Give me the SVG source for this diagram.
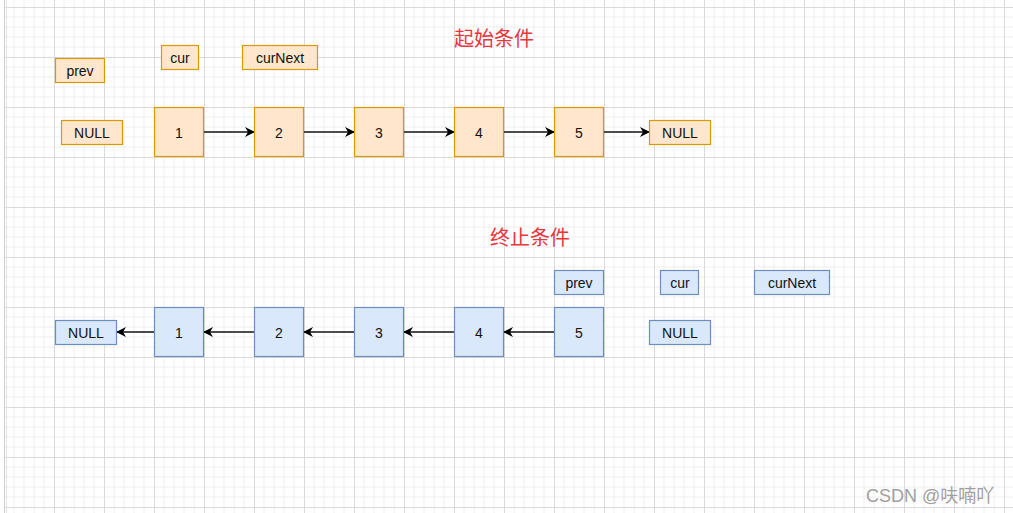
<svg xmlns="http://www.w3.org/2000/svg" width="1013" height="513" viewBox="0 0 1013 513">
<defs>
<pattern id="grid" x="4" y="7" width="50" height="50" patternUnits="userSpaceOnUse">
<path d="M10 0V50M20 0V50M30 0V50M40 0V50M0 10H50M0 20H50M0 30H50M0 40H50" stroke="#eeeeee" stroke-width="1" fill="none"/>
<path d="M0.5 0V50M0 0.5H50" stroke="#dadada" stroke-width="1" fill="none"/>
</pattern>
<marker id="arr" viewBox="0 0 10 10" refX="9" refY="5" markerWidth="10" markerHeight="10" markerUnits="userSpaceOnUse" orient="auto">
<path d="M0 0L10 5L0 10L3 5Z" fill="#000"/>
</marker>
<style>
.o{fill:#ffe6cc;stroke:#d79b00;stroke-width:1.2}
.b{fill:#dae8fc;stroke:#6c8ebf;stroke-width:1.2}
.t{font-family:"Liberation Sans",Arial,sans-serif;font-size:14px;fill:#111;text-anchor:middle;dominant-baseline:central}
.h{font-family:"Noto Sans CJK SC",sans-serif;font-size:20px;fill:#e8363c;text-anchor:middle}
.e{stroke:#111;stroke-width:1.3;fill:none;marker-end:url(#arr)}
</style>
</defs>
<rect width="1013" height="513" fill="#fff"/>
<rect x="5" y="0" width="1008" height="513" fill="url(#grid)"/>
<line x1="4.5" y1="0" x2="4.5" y2="513" stroke="#cfcfcf"/>
<line x1="6.5" y1="0" x2="6.5" y2="513" stroke="#e4e4e4"/>

<text class="h" x="494" y="46">起始条件</text>
<text class="h" x="530" y="245">终止条件</text>

<g id="connectors">
<line class="e" x1="204" y1="132" x2="254" y2="132"/>
<line class="e" x1="304" y1="132" x2="354" y2="132"/>
<line class="e" x1="404" y1="132" x2="454" y2="132"/>
<line class="e" x1="504" y1="132" x2="554" y2="132"/>
<line class="e" x1="604" y1="132" x2="649" y2="132"/>
<line class="e" x1="154" y1="332" x2="117" y2="332"/>
<line class="e" x1="254" y1="332" x2="204" y2="332"/>
<line class="e" x1="354" y1="332" x2="304" y2="332"/>
<line class="e" x1="454" y1="332" x2="404" y2="332"/>
<line class="e" x1="554" y1="332" x2="504" y2="332"/>
</g>

<g id="top-prev"><rect class="o" x="55.5" y="58.5" width="49" height="24"/><text class="t" x="80" y="70.5">prev</text></g>
<g id="top-cur"><rect class="o" x="161.5" y="45.5" width="37" height="24"/><text class="t" x="180" y="57.5">cur</text></g>
<g id="top-curNext"><rect class="o" x="242.5" y="45.5" width="75" height="24"/><text class="t" x="280" y="57.5">curNext</text></g>
<g id="top-null-left"><rect class="o" x="61.5" y="120.5" width="61" height="24"/><text class="t" x="92" y="132.5">NULL</text></g>
<g id="top-n1"><rect class="o" x="154.5" y="107.5" width="49" height="49"/><text class="t" x="179" y="132.5">1</text></g>
<g id="top-n2"><rect class="o" x="254.5" y="107.5" width="49" height="49"/><text class="t" x="279" y="132.5">2</text></g>
<g id="top-n3"><rect class="o" x="354.5" y="107.5" width="49" height="49"/><text class="t" x="379" y="132.5">3</text></g>
<g id="top-n4"><rect class="o" x="454.5" y="107.5" width="49" height="49"/><text class="t" x="479" y="132.5">4</text></g>
<g id="top-n5"><rect class="o" x="554.5" y="107.5" width="49" height="49"/><text class="t" x="579" y="132.5">5</text></g>
<g id="top-null-right"><rect class="o" x="649.5" y="120.5" width="61" height="24"/><text class="t" x="680" y="132.5">NULL</text></g>

<g id="bot-null-left"><rect class="b" x="55.5" y="320.5" width="61" height="24"/><text class="t" x="86" y="332.5">NULL</text></g>
<g id="bot-n1"><rect class="b" x="154.5" y="307.5" width="49" height="49"/><text class="t" x="179" y="332.5">1</text></g>
<g id="bot-n2"><rect class="b" x="254.5" y="307.5" width="49" height="49"/><text class="t" x="279" y="332.5">2</text></g>
<g id="bot-n3"><rect class="b" x="354.5" y="307.5" width="49" height="49"/><text class="t" x="379" y="332.5">3</text></g>
<g id="bot-n4"><rect class="b" x="454.5" y="307.5" width="49" height="49"/><text class="t" x="479" y="332.5">4</text></g>
<g id="bot-n5"><rect class="b" x="554.5" y="307.5" width="49" height="49"/><text class="t" x="579" y="332.5">5</text></g>
<g id="bot-prev"><rect class="b" x="554.5" y="270.5" width="49" height="24"/><text class="t" x="579" y="282.5">prev</text></g>
<g id="bot-cur"><rect class="b" x="660.5" y="270.5" width="38" height="24"/><text class="t" x="680" y="282.5">cur</text></g>
<g id="bot-curNext"><rect class="b" x="754.5" y="270.5" width="75" height="24"/><text class="t" x="792" y="282.5">curNext</text></g>
<g id="bot-null-right"><rect class="b" x="649.5" y="320.5" width="61" height="24"/><text class="t" x="680" y="332.5">NULL</text></g>

<text x="866" y="502" font-family="'Liberation Sans','Noto Sans CJK SC',sans-serif" font-size="18" fill="#a0a0a0">CSDN @呋喃吖</text>
</svg>
